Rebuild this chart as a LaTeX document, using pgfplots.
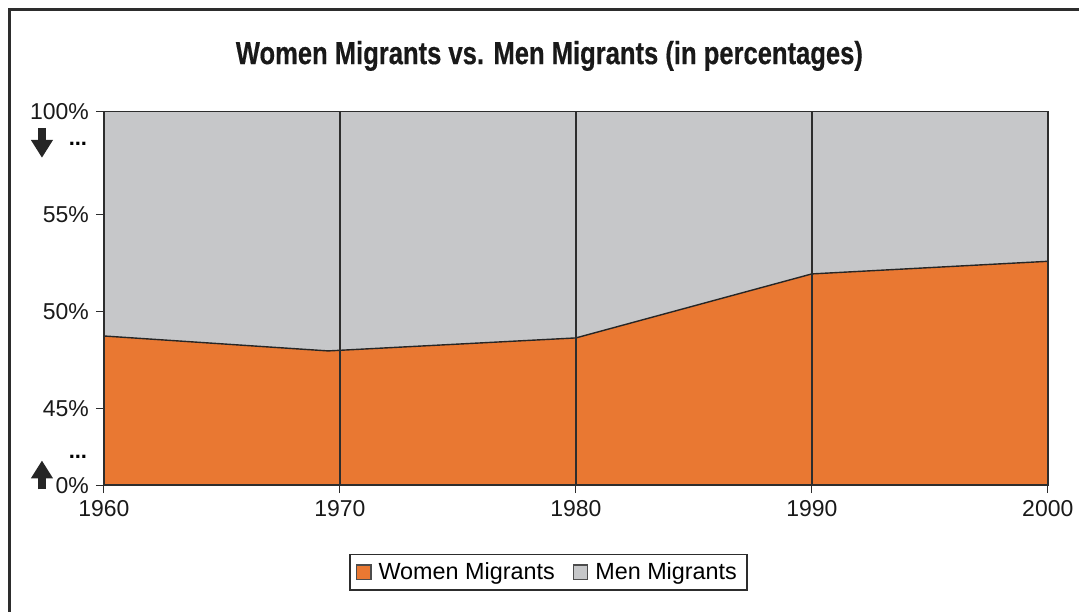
\documentclass[border=0pt]{standalone}
\usepackage{fontspec}
\setmainfont{Liberation Sans}
\newfontfamily\titlefont[FakeStretch=0.8,FakeBold=0.4]{Liberation Sans Bold}
\usepackage{pgfplots}
\pgfplotsset{compat=1.18}
\usetikzlibrary{arrows.meta}
\definecolor{womenc}{RGB}{233,120,50}
\definecolor{menc}{RGB}{198,199,201}
\definecolor{linec}{RGB}{45,45,45}
\pgfplotstableread{
year value
1960 48.75
1969.5 47.98
1980 48.65
1990 51.95
2000 52.60
}\women
\pgfplotstableread{
year value
1960 60.32
2000 60.32
}\men
\begin{document}
\begin{tikzpicture}
\begin{scope}[x=0.5pt,y=-0.5pt]
\useasboundingbox (0,0) rectangle (1080,613);
\draw[linec,line width=1.5pt] (1080,10) -- (10,10) -- (10,613);
\node[font=\titlefont\fontsize{16}{18}\selectfont,text=black!90] at (550,56) {Women Migrants vs. Men Migrants (in percentages)};
\draw[black!85,line width=4pt,-{Triangle[width=10.5pt,length=9pt]}] (42,128) -- (42,158);
\draw[black!85,line width=4pt,-{Triangle[width=10.5pt,length=9pt]}] (42,490) -- (42,461);
\node[font=\bfseries\fontsize{11}{12}\selectfont,inner sep=0pt] at (78,144) {...};
\node[font=\bfseries\fontsize{11}{12}\selectfont,inner sep=0pt] at (78,457) {...};
\end{scope}
\begin{axis}[
  at={(52pt,-242.85pt)}, anchor=south west,
  scale only axis, width=472.5pt, height=187pt,
  xmin=1960, xmax=2000, ymin=41.06, ymax=60.32,
  xtick={1960,1970,1980,1990,2000},
  ytick={41.06,45,50,55,60.32},
  yticklabels={0\%,45\%,50\%,55\%,100\%},
  x tick label style={/pgf/number format/1000 sep={}},
  /pgf/number format/assume math mode=true,
  tick label style={font=\fontsize{11.5}{13}\selectfont, text=black!90},
  tick align=outside, major tick length=4pt,
  tick style={linec,line width=0.6pt},
  xtick pos=bottom, ytick pos=left,
  axis line style={linec,line width=0.8pt},
  xmajorgrids, grid style={linec,line width=0.75pt},
  axis on top,
  reverse legend,
  legend columns=2,
  legend style={at={(0.471,-0.233)},anchor=center,draw=linec,line width=0.7pt,
    font=\fontsize{11.7}{13}\selectfont, inner xsep=3pt, inner ysep=2pt,
    /tikz/every odd column/.append style={column sep=1.5pt},
    /tikz/every even column/.append style={column sep=7pt}},
  legend image code/.code={\draw[#1,draw=black!70,line width=0.6pt] (0pt,-3.6pt) rectangle (7.2pt,3.6pt);},
]
\addplot[fill=menc,draw=none] table[x=year,y=value]{\men} \closedcycle;
\addlegendentry{Men Migrants}
\addplot[fill=womenc,draw=black!85,line width=0.7pt] table[x=year,y=value]{\women} \closedcycle;
\addlegendentry{Women Migrants}
\end{axis}
\end{tikzpicture}
\end{document}
